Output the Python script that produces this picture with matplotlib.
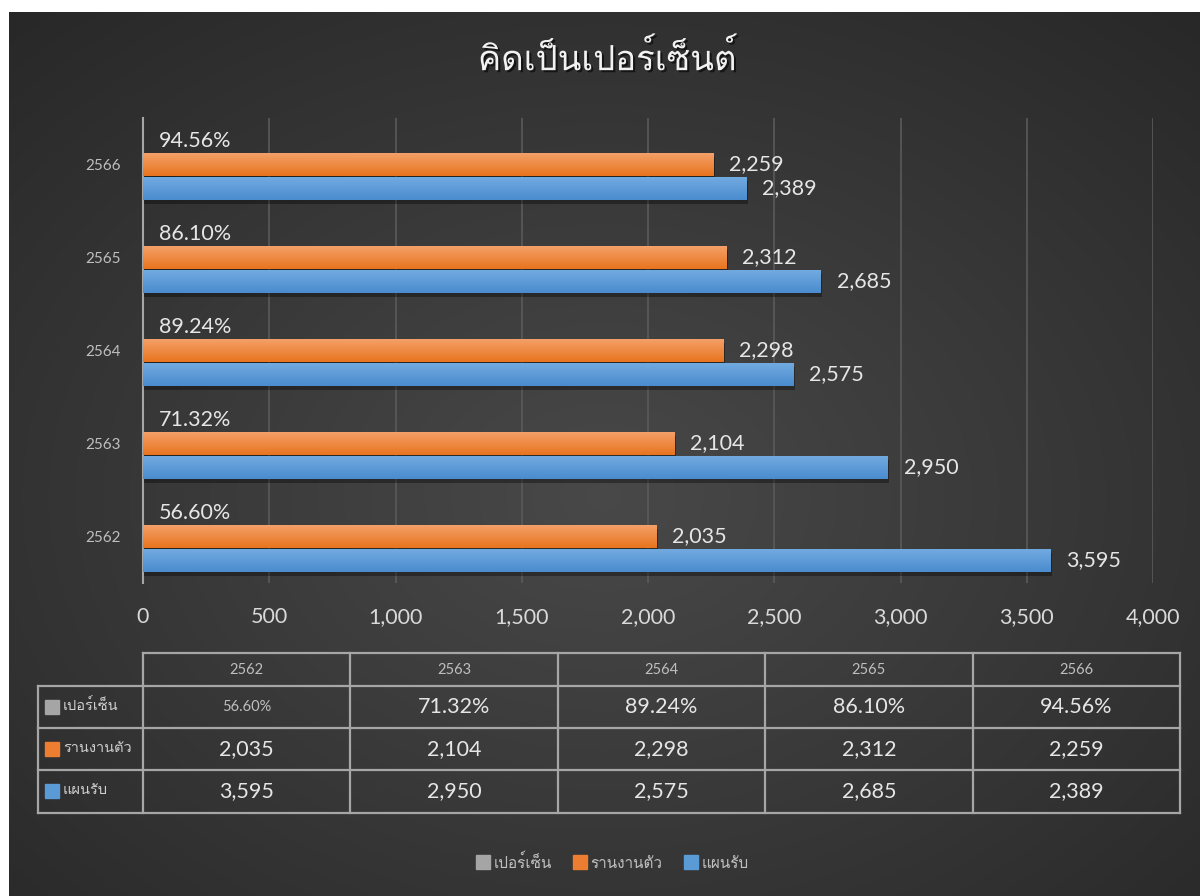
import numpy as np
import matplotlib
matplotlib.use("Agg")
import matplotlib.pyplot as plt
from matplotlib import font_manager
from matplotlib.ft2font import FT2Font
import matplotlib.patheffects as pe
from matplotlib.patches import Rectangle
from matplotlib.lines import Line2D

# ---------------- data ----------------
years = ["2562", "2563", "2564", "2565", "2566"]
percent = [56.60, 71.32, 89.24, 86.10, 94.56]          # เปอร์เซ็น
reported = [2035, 2104, 2298, 2312, 2259]              # รานงานตัว
planned = [3595, 2950, 2575, 2685, 2389]               # แผนรับ
series_names = ["เปอร์เซ็น", "รานงานตัว", "แผนรับ"]
title = "คิดเป็นเปอร์เซ็นต์"
xticks = [0, 500, 1000, 1500, 2000, 2500, 3000, 3500, 4000]

# ---------------- fonts ----------------
def find_thai_family():
    seen = set()
    for f in font_manager.fontManager.ttflist:
        if f.name in seen:
            continue
        seen.add(f.name)
        try:
            ft = FT2Font(f.fname)
            if ft.get_char_index(0x0E04) and ft.get_char_index(0x0E40):
                return f.name
        except Exception:
            pass
    return None

thai = find_thai_family()
num_family = ["Lato", "DejaVu Sans"]
thai_family = ([thai] if thai else []) + ["Lato", "DejaVu Sans"]
plt.rcParams["font.family"] = thai_family

W, H = 1200, 896
fig = plt.figure(figsize=(W / 100, H / 100), dpi=100)
fig.patch.set_facecolor("white")

def fx(px):
    return px / W

def fy(py):
    return 1 - py / H

# ---------------- background panel ----------------
bg = fig.add_axes([fx(9), 0, 1 - fx(9), fy(12)])
bg.set_axis_off()
yy, xx = np.mgrid[0:1:300j, 0:1:300j]
r = np.sqrt(((xx - 0.5) / 0.75) ** 2 + ((yy - 0.55) / 0.75) ** 2)
g = 0.285 - 0.13 * np.clip(r, 0, 1.2)
g = np.clip(g, 0.145, 0.29)
img = np.dstack([g, g, g])
bg.imshow(img, aspect="auto", extent=[0, 1, 0, 1], interpolation="bilinear")
bg.set_xlim(0, 1)
bg.set_ylim(0, 1)

# ---------------- title ----------------
fig.text(fx(607), fy(58), title, ha="center", va="center", fontsize=25,
         color="#f2f2f2", family=thai_family,
         path_effects=[pe.withSimplePatchShadow(offset=(1.5, -1.5), shadow_rgbFace="black", alpha=0.6)])

# ---------------- bar chart ----------------
left, right, top, bottom = 143, 1153, 118, 583
ax = fig.add_axes([fx(left), fy(bottom), fx(right - left), (bottom - top) / H])
ax.set_facecolor("none")
ypos = np.arange(len(years))
h = 0.245
off = 0.258

orange = "#ed7d31"
blue = "#5b9bd5"
gray = "#a5a5a5"

shadow = [pe.withSimplePatchShadow(offset=(1, -3), shadow_rgbFace="black", alpha=0.35)]
pct_frac = [p / 100 for p in percent]
b_gray = ax.barh(ypos + off, pct_frac, height=h, color=gray, zorder=3)
b_or = ax.barh(ypos, reported, height=h, color=orange, zorder=3)
b_bl = ax.barh(ypos - off, planned, height=h, color=blue, zorder=3)

def grad(c_top, c_bot):
    t = np.linspace(0, 1, 32)[:, None]
    a = np.array(matplotlib.colors.to_rgb(c_top))
    b = np.array(matplotlib.colors.to_rgb(c_bot))
    return (a * (1 - t) + b * t)[:, None, :].repeat(2, axis=1)

g_or = grad("#f4a068", "#e8741f")
g_bl = grad("#72aae0", "#4a8ccf")
for bars, gimg in ((b_or, g_or), (b_bl, g_bl)):
    for b in bars:
        b.set_path_effects(shadow)
        x0, y0 = b.get_x(), b.get_y()
        w_, h_ = b.get_width(), b.get_height()
        ax.imshow(gimg, extent=(x0, x0 + w_, y0, y0 + h_), origin="upper",
                  aspect="auto", zorder=4, interpolation="bilinear")

label_kw = dict(fontsize=15.5, color="#e6e6e6", va="center", family=num_family, zorder=5)
for i in range(len(years)):
    ax.text(pct_frac[i] + 62, ypos[i] + off, f"{percent[i]:.2f}%", ha="left", **label_kw)
    ax.text(reported[i] + 62, ypos[i], f"{reported[i]:,}", ha="left", **label_kw)
    ax.text(planned[i] + 62, ypos[i] - off, f"{planned[i]:,}", ha="left", **label_kw)

ax.set_xlim(0, 4000)
ax.set_ylim(-0.5, len(years) - 0.5)
ax.set_xticks(xticks)
ax.set_xticklabels([f"{t:,}" for t in xticks], family=num_family, fontsize=15.5, color="#d9d9d9")
ax.set_yticks(ypos)
ax.set_yticklabels(years, fontsize=11, color="#bfbfbf", family=num_family)
ax.tick_params(axis="both", length=0)
ax.tick_params(axis="x", pad=17)
ax.tick_params(axis="y", pad=16)
ax.grid(axis="x", color="#5a5a5a", lw=1.2, zorder=0)
ax.set_axisbelow(True)
for s in ("top", "right", "bottom"):
    ax.spines[s].set_visible(False)
ax.spines["left"].set_color("#a6a6a6")
ax.spines["left"].set_linewidth(1.5)
ax.spines["left"].set_zorder(2)

# ---------------- data table ----------------
tab = fig.add_axes([0, 0, 1, 1])
tab.set_axis_off()
tab.set_xlim(0, W)
tab.set_ylim(H, 0)
cols = np.linspace(143, 1180, len(years) + 1)
rows = [653, 686, 728, 770, 813]
lc = "#a6a6a6"
lw = 1.6
tab.plot([cols[0], cols[-1]], [rows[0], rows[0]], color=lc, lw=lw)
for yv in rows[1:]:
    tab.plot([38, cols[-1]], [yv, yv], color=lc, lw=lw)
for xv in cols:
    tab.plot([xv, xv], [rows[0], rows[-1]], color=lc, lw=lw)
tab.plot([38, 38], [rows[1], rows[-1]], color=lc, lw=lw)

for j, yr in enumerate(years):
    cx = (cols[j] + cols[j + 1]) / 2
    tab.text(cx, (rows[0] + rows[1]) / 2, yr, ha="center", va="center",
             fontsize=10.5, color="#bfbfbf", family=num_family)
    if j == 0:
        tab.text(cx, (rows[1] + rows[2]) / 2, f"{percent[j]:.2f}%", ha="center", va="center",
                 fontsize=10.5, color="#bfbfbf", family=num_family)
    else:
        tab.text(cx, (rows[1] + rows[2]) / 2, f"{percent[j]:.2f}%", ha="center", va="center",
                 fontsize=15.5, color="#e6e6e6", family=num_family)
    tab.text(cx, (rows[2] + rows[3]) / 2, f"{reported[j]:,}", ha="center", va="center",
             fontsize=15.5, color="#e6e6e6", family=num_family)
    tab.text(cx, (rows[3] + rows[4]) / 2, f"{planned[j]:,}", ha="center", va="center",
             fontsize=15.5, color="#e6e6e6", family=num_family)

for k, (name, c) in enumerate(zip(series_names, [gray, orange, blue])):
    yc = (rows[k + 1] + rows[k + 2]) / 2
    tab.add_patch(Rectangle((45, yc - 7), 14, 14, color=c))
    tab.text(63, yc - 1, name, ha="left", va="center", fontsize=10.5,
             color="#d0d0d0", family=thai_family)

# ---------------- legend ----------------
handles = [Line2D([], [], marker="s", ls="none", markersize=9.5, markerfacecolor=c, markeredgecolor=c)
           for c in [gray, orange, blue]]
leg = fig.legend(handles, series_names, loc="center", bbox_to_anchor=(fx(613), fy(862)),
                 ncol=3, frameon=False, handlelength=0.7, handletextpad=0.35, columnspacing=1.5,
                 prop={"family": thai_family, "size": 11})
for t in leg.get_texts():
    t.set_color("#bfbfbf")

fig.savefig("out.png", dpi=100, facecolor=fig.get_facecolor())
